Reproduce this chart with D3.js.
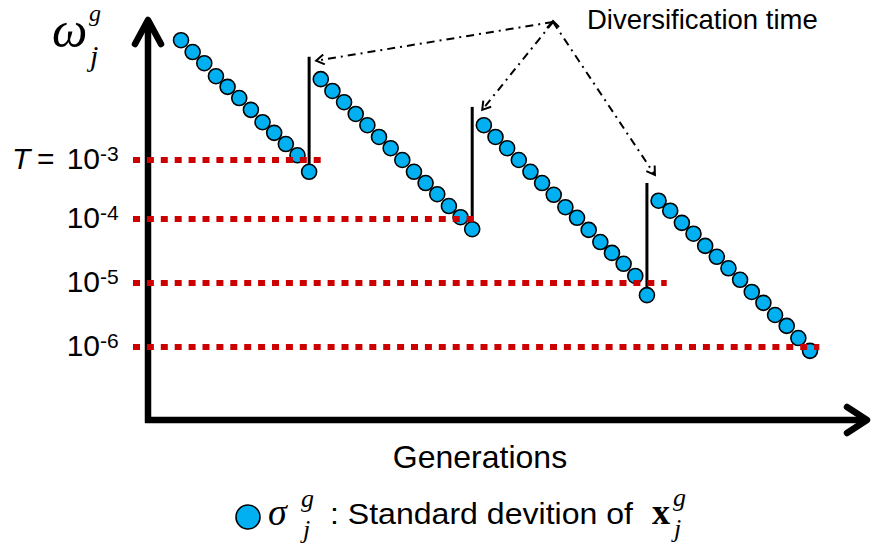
<!DOCTYPE html>
<html lang="en">
    <head>
        <meta charset="utf-8">
        <title>Diversification time</title>
        <script type="text/javascript" src="https://cdn.jsdelivr.net/npm/d3@7"></script>
        <style>
            body { margin: 0; background: #fff; }
        </style>
    </head>
    <body>
        <script type="text/javascript">
        // log10 of sigma for each run of generations
        var seg1 = [-0.97, -1.17, -1.36, -1.58, -1.76, -1.95, -2.15, -2.36, -2.54, -2.73, -2.92, -3.20];
        var seg2 = [-1.63, -1.83, -2.02, -2.22, -2.41, -2.61, -2.80, -3.00, -3.20, -3.39, -3.58, -3.78, -3.97, -4.16];
        var seg3 = [-2.41, -2.61, -2.80, -3.00, -3.20, -3.39, -3.59, -3.80, -3.98, -4.17, -4.36, -4.53, -4.70, -4.89, -5.19];
        var seg4 = [-3.69, -3.86, -4.06, -4.23, -4.42, -4.59, -4.77, -4.95, -5.14, -5.31, -5.50, -5.67, -5.86, -6.06];
        var segStart = [0, 12, 26, 41];
        // diversification: generation of the jump and top of the marker
        var divGen = [11, 25, 40];
        var divTop = [-1.25, -2.10, -3.39];
        // thresholds T and where each dotted line stops (in generations)
        var tickExps = [-3, -4, -5, -6];
        var tickLabels = ["10", "10", "10", "10"];
        var tickSups = ["-3", "-4", "-5", "-6"];
        var thresholdEnd = [12.1, 25.1, 41.7, 54.8];

        var w = 871;
        var h = 547;
        var axisX = 148;
        var axisY = 420;
        var sans = "Liberation Sans, Arial, sans-serif";
        var serif = "Liberation Serif, DejaVu Serif, serif";

        var x = d3.scaleLinear().domain([0, 54]).range([181, 810]);
        var y = d3.scaleLinear().domain([-6, -5, -4, -3]).range([347, 283, 219, 160]);

        var points = [];
        [seg1, seg2, seg3, seg4].forEach(function(s, k) {
            s.forEach(function(v, i) {
                points.push({gen: segStart[k] + i, v: v});
            });
        });

        var svg = d3.select("body")
                    .append("svg")
                    .attr("width", w)
                    .attr("height", h);

        var defs = svg.append("defs");
        defs.append("marker")
            .attr("id", "head")
            .attr("viewBox", "0 0 12 12")
            .attr("refX", 10)
            .attr("refY", 6)
            .attr("markerWidth", 12)
            .attr("markerHeight", 12)
            .attr("markerUnits", "userSpaceOnUse")
            .attr("orient", "auto")
            .append("path")
            .attr("d", "M2,1 L10,6 L2,11")
            .attr("fill", "none")
            .attr("stroke", "black")
            .attr("stroke-width", 2);

        // axes
        svg.append("path")
            .attr("d", "M" + axisX + "," + (axisY + 3) + " L" + axisX + ",21")
            .attr("stroke", "black")
            .attr("stroke-width", 6.5)
            .attr("fill", "none");
        svg.append("path")
            .attr("d", "M135,44 L" + axisX + ",20 L161,44")
            .attr("stroke", "black")
            .attr("stroke-width", 6.5)
            .attr("stroke-linecap", "round")
            .attr("stroke-linejoin", "round")
            .attr("fill", "none");
        svg.append("path")
            .attr("d", "M" + (axisX - 3) + "," + axisY + " L866," + axisY)
            .attr("stroke", "black")
            .attr("stroke-width", 6.5)
            .attr("fill", "none");
        svg.append("path")
            .attr("d", "M847,407 L867," + axisY + " L847,433")
            .attr("stroke", "black")
            .attr("stroke-width", 6.5)
            .attr("stroke-linecap", "round")
            .attr("stroke-linejoin", "round")
            .attr("fill", "none");

        // diversification markers
        svg.selectAll("line.div")
            .data(divGen)
            .enter()
            .append("line")
            .attr("class", "div")
            .attr("x1", function(d) { return x(d); })
            .attr("x2", function(d) { return x(d); })
            .attr("y1", function(d, i) { return y(divTop[i]); })
            .attr("y2", function(d) {
                var p = points.filter(function(q) { return q.gen === d; })[0];
                return y(p.v);
            })
            .attr("stroke", "black")
            .attr("stroke-width", 3);

        // dots
        svg.selectAll("circle.pt")
            .data(points)
            .enter()
            .append("circle")
            .attr("class", "pt")
            .attr("cx", function(d) { return x(d.gen); })
            .attr("cy", function(d) { return y(d.v); })
            .attr("r", 7.5)
            .attr("fill", "#00b0f0")
            .attr("stroke", "black")
            .attr("stroke-width", 1.6);

        // threshold lines
        svg.selectAll("line.thr")
            .data(tickExps)
            .enter()
            .append("line")
            .attr("class", "thr")
            .attr("x1", 133)
            .attr("x2", function(d, i) { return x(thresholdEnd[i]); })
            .attr("y1", function(d) { return y(d); })
            .attr("y2", function(d) { return y(d); })
            .attr("stroke", "#cc0000")
            .attr("stroke-width", 6)
            .attr("stroke-dasharray", "7,6.9");

        // tick labels
        svg.selectAll("text.tick")
            .data(tickExps)
            .enter()
            .append("text")
            .attr("class", "tick")
            .attr("x", 100)
            .attr("y", function(d) { return y(d) + 9; })
            .attr("text-anchor", "end")
            .attr("font-family", sans)
            .attr("font-size", "30px")
            .text(function(d, i) { return tickLabels[i]; });
        svg.selectAll("text.sup")
            .data(tickExps)
            .enter()
            .append("text")
            .attr("class", "sup")
            .attr("x", 100)
            .attr("y", function(d) { return y(d) + 1; })
            .attr("font-family", sans)
            .attr("font-size", "21px")
            .text(function(d, i) { return tickSups[i]; });
        svg.append("text")
            .attr("x", 12)
            .attr("y", y(-3) + 9)
            .attr("font-family", sans)
            .attr("font-size", "30px")
            .attr("font-style", "italic")
            .text("T");
        svg.append("text")
            .attr("x", 37)
            .attr("y", y(-3) + 9)
            .attr("font-family", sans)
            .attr("font-size", "30px")
            .text("=");

        // y label
        svg.append("text")
            .attr("x", 52).attr("y", 47)
            .attr("font-family", serif).attr("font-style", "italic")
            .attr("font-size", "50px")
            .text("ω");
        svg.append("text")
            .attr("x", 89).attr("y", 21)
            .attr("font-family", serif).attr("font-style", "italic")
            .attr("font-size", "24px")
            .text("g");
        svg.append("text")
            .attr("x", 90).attr("y", 66)
            .attr("font-family", serif).attr("font-style", "italic")
            .attr("font-size", "30px")
            .text("j");

        // x label
        svg.append("text")
            .attr("x", 480)
            .attr("y", 468)
            .attr("text-anchor", "middle")
            .attr("font-family", sans)
            .attr("font-size", "32px")
            .text("Generations");

        // annotation
        var apex = [553, 22];
        var targets = divGen.map(function(g, i) {
            return [x(g) + [7, 10, 8][i], y(divTop[i]) + [4, 3, -8][i]];
        });
        svg.selectAll("path.ann")
            .data(targets)
            .enter()
            .append("path")
            .attr("class", "ann")
            .attr("d", function(d) { return "M" + apex[0] + "," + apex[1] + " L" + d[0] + "," + d[1]; })
            .attr("stroke", "black")
            .attr("stroke-width", 2)
            .attr("stroke-dasharray", "8,5,2,5")
            .attr("fill", "none")
            .attr("marker-end", "url(#head)");
        svg.append("path")
            .attr("d", "M547,28 L553,21 L559,27")
            .attr("stroke", "black")
            .attr("stroke-width", 2)
            .attr("fill", "none");
        svg.append("text")
            .attr("x", 587)
            .attr("y", 29)
            .attr("font-family", sans)
            .attr("font-size", "27.5px")
            .text("Diversification time");

        // legend
        svg.append("circle")
            .attr("cx", 248).attr("cy", 517).attr("r", 12)
            .attr("fill", "#00b0f0")
            .attr("stroke", "black")
            .attr("stroke-width", 1.6);
        svg.append("text")
            .attr("x", 268).attr("y", 525)
            .attr("font-family", serif).attr("font-style", "italic")
            .attr("font-size", "38px")
            .text("σ");
        svg.append("text")
            .attr("x", 301).attr("y", 507)
            .attr("font-family", serif).attr("font-style", "italic")
            .attr("font-size", "26px")
            .text("g");
        svg.append("text")
            .attr("x", 303).attr("y", 538)
            .attr("font-family", serif).attr("font-style", "italic")
            .attr("font-size", "26px")
            .text("j");
        svg.append("text")
            .attr("x", 330).attr("y", 524)
            .attr("font-family", sans)
            .attr("font-size", "30px")
            .attr("textLength", 303)
            .attr("lengthAdjust", "spacingAndGlyphs")
            .text(": Standard devition of");
        svg.append("text")
            .attr("x", 652).attr("y", 524)
            .attr("font-family", serif).attr("font-weight", "bold")
            .attr("font-size", "36px")
            .text("x");
        svg.append("text")
            .attr("x", 673).attr("y", 506)
            .attr("font-family", serif).attr("font-style", "italic")
            .attr("font-size", "26px")
            .text("g");
        svg.append("text")
            .attr("x", 674).attr("y", 537)
            .attr("font-family", serif).attr("font-style", "italic")
            .attr("font-size", "26px")
            .text("j");
        </script>
    </body>
</html>
